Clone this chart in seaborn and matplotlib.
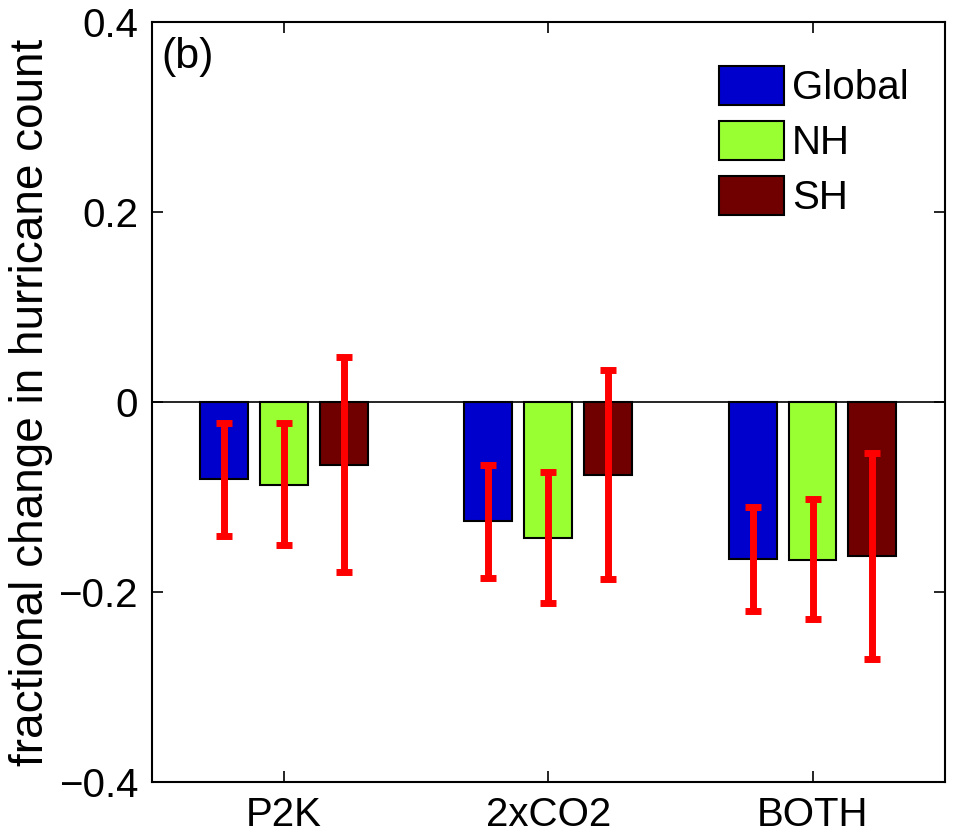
import matplotlib
matplotlib.use("Agg")
import matplotlib.pyplot as plt
import seaborn as sns
import pandas as pd
import numpy as np
from matplotlib.patches import Patch

scenarios = ["P2K", "2xCO2", "BOTH"]
regions = ["Global", "NH", "SH"]
global_vals = [-0.081, -0.125, -0.165]
nh_vals = [-0.087, -0.143, -0.166]
sh_vals = [-0.066, -0.077, -0.162]
global_lo = [-0.141, -0.185, -0.220]
global_hi = [-0.022, -0.066, -0.111]
nh_lo = [-0.151, -0.212, -0.229]
nh_hi = [-0.022, -0.074, -0.102]
sh_lo = [-0.179, -0.186, -0.271]
sh_hi = [0.047, 0.034, -0.054]
colors = ["#0000CC", "#99FF33", "#700000"]
yticks = [-0.4, -0.2, 0, 0.2, 0.4]
ytick_labels = ["\u22120.4", "\u22120.2", "0", "0.2", "0.4"]

vals = [global_vals, nh_vals, sh_vals]
los = [global_lo, nh_lo, sh_lo]
his = [global_hi, nh_hi, sh_hi]

rows = []
for r, v in zip(regions, vals):
    for s, x in zip(scenarios, v):
        rows.append({"scenario": s, "region": r, "value": x})
df = pd.DataFrame(rows)

sns.set_style("white")
plt.rcParams["font.family"] = ["Liberation Sans", "DejaVu Sans"]
plt.rcParams["text.color"] = "black"
plt.rcParams["axes.labelcolor"] = "black"
plt.rcParams["xtick.color"] = "black"
plt.rcParams["ytick.color"] = "black"

fig = plt.figure(figsize=(9.61, 8.39), dpi=100)
ax = fig.add_axes([0.158, 0.068, 0.825, 0.906])

sns.barplot(data=df, x="scenario", y="value", hue="region", order=scenarios,
            hue_order=regions, palette=colors, width=0.68, gap=0.2,
            edgecolor="black", linewidth=1.5, errorbar=None, saturation=1,
            ax=ax, legend=False)

for cont, lo, hi in zip(ax.containers, los, his):
    for bar, l, h in zip(cont, lo, hi):
        xc = bar.get_x() + bar.get_width() / 2
        ymid = (l + h) / 2
        ax.errorbar(xc, ymid, yerr=[[ymid - l], [h - ymid]], fmt="none",
                    ecolor="red", elinewidth=5, capsize=6, capthick=5, zorder=5)

ax.axhline(0, color="black", lw=1.2, zorder=1)
ax.set_xlim(-0.5, 2.5)
ax.set_ylim(-0.4, 0.4)
ax.set_yticks(yticks)
ax.set_yticklabels(ytick_labels)
ax.set_xlabel("")
ax.set_ylabel("fractional change in hurricane count", fontsize=33, labelpad=4)
ax.tick_params(axis="both", direction="in", length=8, width=1.2, labelsize=29,
               top=True, right=True, left=True, bottom=True, pad=10,
               colors="black")
for sp in ax.spines.values():
    sp.set_visible(True)
    sp.set_color("black")
    sp.set_linewidth(1.5)

ax.text(0.012, 0.98, "(b)", transform=ax.transAxes, fontsize=31, va="top", ha="left")

handles = [Patch(facecolor=c, edgecolor="black", linewidth=1.5, label=r)
           for c, r in zip(colors, regions)]
ax.legend(handles=handles, loc="upper right", bbox_to_anchor=(0.975, 0.963),
          frameon=False, fontsize=29, handlelength=1.6, handleheight=1.1,
          labelspacing=0.35, handletextpad=0.2, borderaxespad=0)

fig.savefig("out.png", dpi=100)
